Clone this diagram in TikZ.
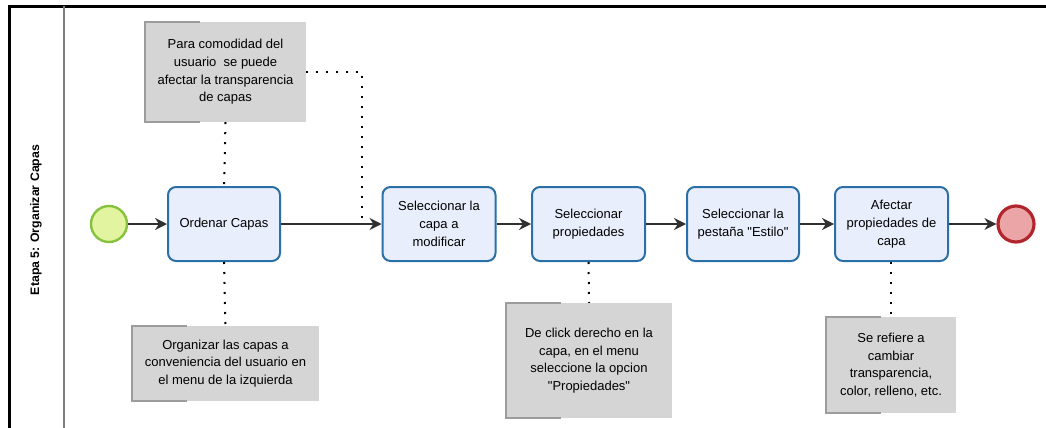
\documentclass[tikz,border=0pt]{standalone}
\usepackage{fontspec}
\setmainfont{Liberation Sans}[Ligatures=TeXOff]
\usetikzlibrary{arrows.meta,calc}

\definecolor{taskfill}{HTML}{E9EEFC}
\definecolor{taskline}{HTML}{2A6FA6}
\definecolor{startfill}{HTML}{E3F4A0}
\definecolor{startline}{HTML}{86C23E}
\definecolor{endfill}{HTML}{EBA5A6}
\definecolor{endline}{HTML}{B1262C}
\definecolor{notefill}{HTML}{D5D5D5}
\definecolor{notebracket}{HTML}{9C9C9C}
\definecolor{flowline}{HTML}{303030}

\tikzset{
  txt/.style={font=\fontsize{13}{17.7}\selectfont, align=center, text=black},
  taskbox/.style={txt, draw=taskline, fill=taskfill, line width=2pt,
    rounded corners=8pt, minimum height=74pt, inner sep=2pt},
  notebox/.style={txt, fill=notefill, draw=none, inner sep=2pt},
  startev/.style={circle, draw=startline, fill=startfill, line width=2.4pt,
    minimum size=36pt, inner sep=0pt},
  endev/.style={circle, draw=endline, fill=endfill, line width=3.2pt,
    minimum size=36pt, inner sep=0pt},
  flow/.style={draw=flowline, line width=1.5pt,
    -{Stealth[length=12pt,width=12pt,inset=4pt]}},
  assoc/.style={draw=black, line width=2pt, dash pattern=on 2pt off 8pt},
  bracket/.style={draw=notebracket, line width=1.6pt},
}

\begin{document}
\begin{tikzpicture}[x=1pt, y=-1pt]
  \useasboundingbox (0,0) rectangle (1046,428);

  % pool frame and lane header
  \draw[line width=2.2pt] (9.5,428) -- (9.5,6.5) -- (1046,6.5);
  \draw[line width=2pt, draw=gray] (64,6.5) -- (64,428);
  \node[rotate=90, font=\fontsize{12.3}{14}\selectfont\bfseries] (lane) at (36,220)
    {Etapa 5: Organizar Capas};

  % events
  \node[startev] (start) at (109,224) {};
  \node[endev] (end) at (1016,224) {};

  % tasks
  \node[taskbox, minimum width=112pt] (t1) at (224,224) {Ordenar Capas};
  \node[taskbox, minimum width=113pt] (t2) at (439,224)
    {Seleccionar la\\capa a\\modificar};
  \node[taskbox, minimum width=113pt] (t3) at (588.5,224)
    {Seleccionar\\propiedades};
  \node[taskbox, minimum width=112pt] (t4) at (743,224)
    {Seleccionar la\\pestaña "Estilo"};
  \node[taskbox, minimum width=113pt] (t5) at (891.5,224)
    {Afectar\\propiedades de\\capa};

  % annotations
  \node[notebox, minimum width=161pt, minimum height=100pt] (n1) at (225.5,72)
    {Para comodidad del\\usuario\ \ se puede\\afectar la transparencia\\de capas};
  \node[notebox, minimum width=187pt, minimum height=75pt] (n2) at (225.5,363.5)
    {Organizar las capas a\\conveniencia del usuario en\\el menu de la izquierda};
  \node[notebox, minimum width=166pt, minimum height=115pt] (n3) at (589,360.5)
    {De click derecho en la\\capa, en el menu\\seleccione la opcion\\"Propiedades"};
  \node[notebox, minimum width=130pt, minimum height=96pt] (n4) at (891,365)
    {Se refiere a\\cambiar\\transparencia,\\color, relleno, etc.};

  % annotation brackets
  \foreach \n in {n1,n2,n3,n4}{
    \draw[bracket] ($(\n.north west)+(55,0)$) -- (\n.north west)
      -- (\n.south west) -- ($(\n.south west)+(55,0)$);
  }

  % sequence flows
  \draw[flow] (start) -- (t1);
  \draw[flow] (t1) -- (t2);
  \draw[flow] (t2) -- (t3);
  \draw[flow] (t3) -- (t4);
  \draw[flow] (t4) -- (t5);
  \draw[flow] (t5) -- (end);

  % associations
  \coordinate (j1) at (362,221);
  \draw[assoc] (n1.south) -- (t1.north);
  \draw[assoc] (n1.east) -| (j1);
  \draw[assoc] (t1.south) -- (n2.north);
  \draw[assoc] (t3.south) -- (n3.north);
  \draw[assoc] (t5.south -| n4.north) -- (n4.north);
\end{tikzpicture}
\end{document}
